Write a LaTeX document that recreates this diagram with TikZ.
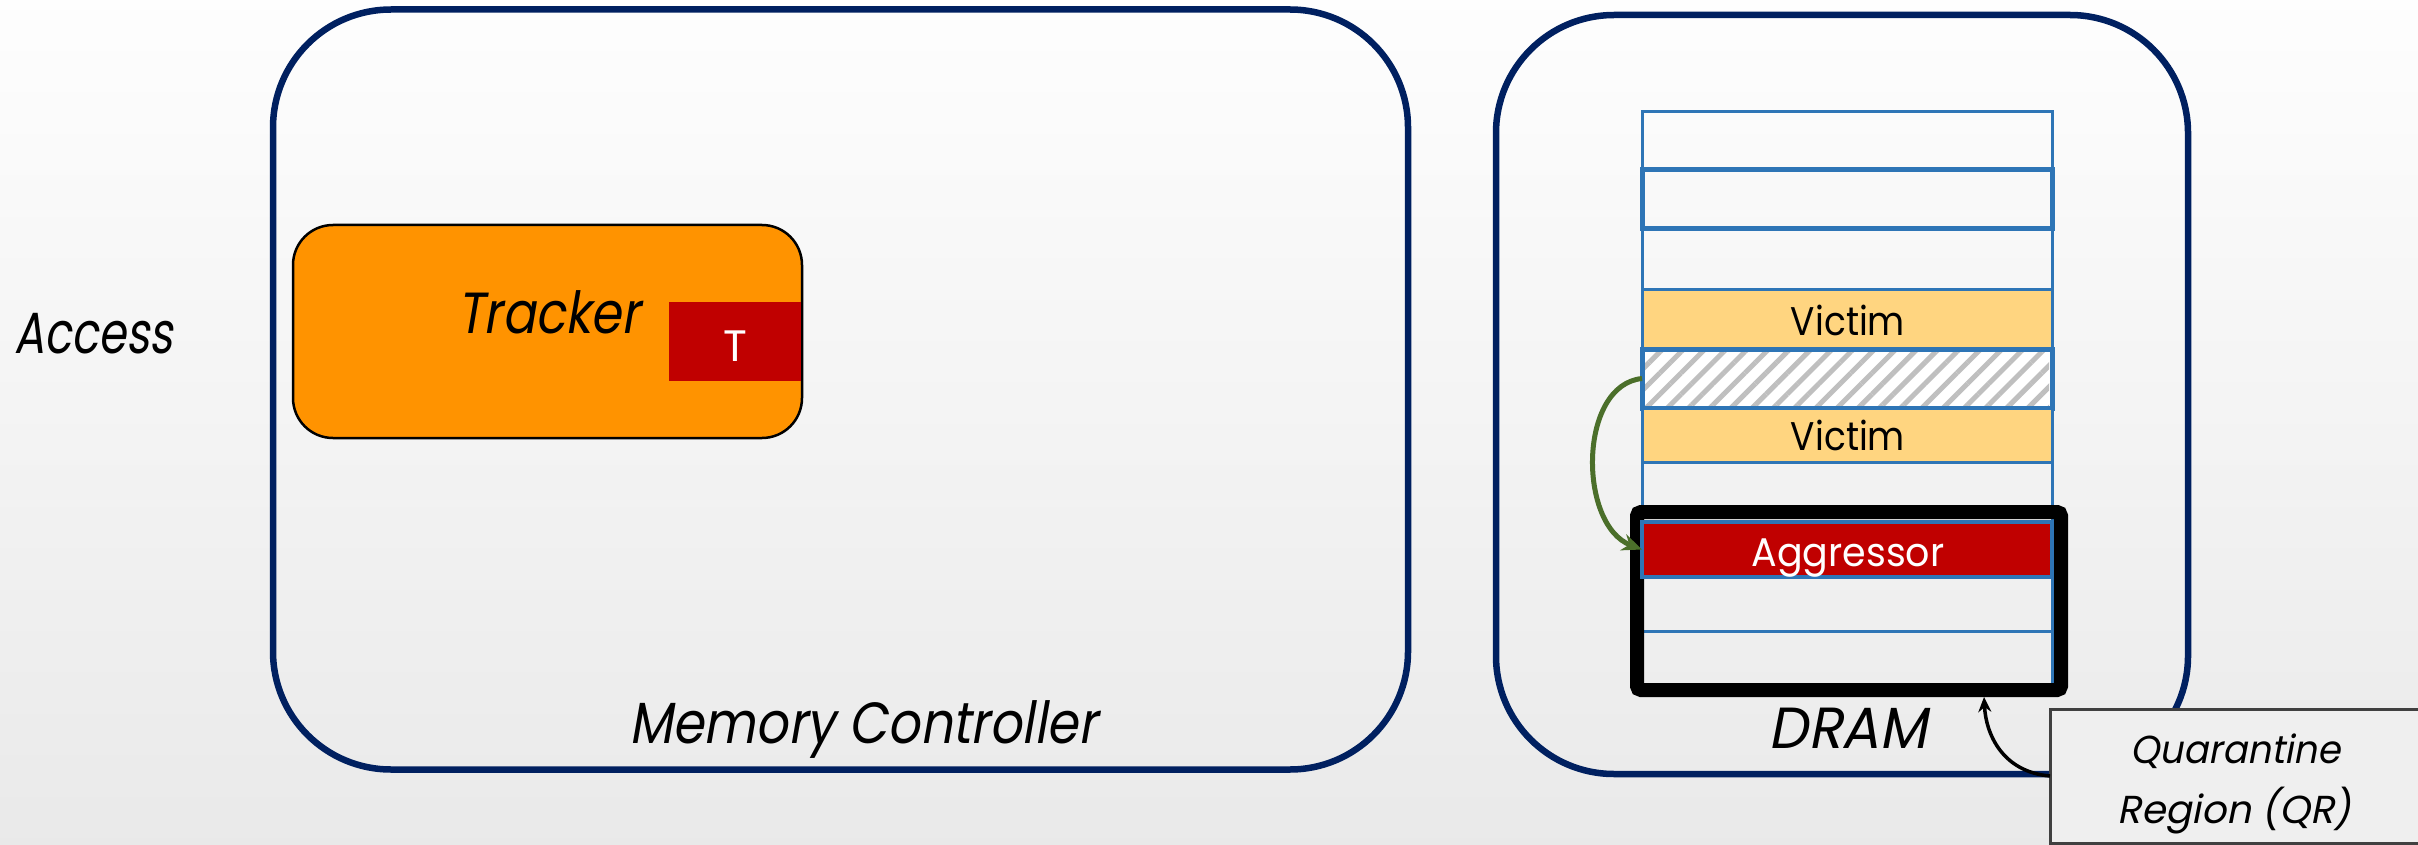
\documentclass[tikz,border=0pt]{standalone}
\usepackage{fontspec}
\usepackage{graphicx}
\newfontfamily\futr{Poppins}
\newfontfamily\futi[FakeSlant=0.2]{Poppins}
\usetikzlibrary{patterns.meta,arrows.meta}
\definecolor{navy}{HTML}{002060}
\definecolor{rowblue}{HTML}{2E75B6}
\definecolor{trackorange}{HTML}{FF9300}
\definecolor{darkred}{HTML}{C00000}
\definecolor{victimfill}{HTML}{FFD580}
\definecolor{arrowgreen}{HTML}{4B6F2A}
\definecolor{qrfill}{HTML}{EFEFEF}
\definecolor{hatchgray}{HTML}{BFBFBF}
\newcommand{\sx}[2]{\scalebox{#1}[1]{#2}}
\tikzset{
  bigbox/.style={draw=navy, line width=6.5pt, rounded corners=118pt, inner sep=0pt, outer sep=0pt},
  rowbox/.style={draw=rowblue, line width=3pt, minimum width=410pt, inner sep=0pt, outer sep=0pt},
  bigtext/.style={font=\futi\fontsize{58}{60}\selectfont, inner sep=0pt, anchor=base},
  rowtext/.style={font=\futr\fontsize{40}{44}\selectfont, inner sep=0pt, anchor=base},
  qrtext/.style={font=\futi\fontsize{39}{44}\selectfont, inner sep=0pt, anchor=base},
}
\begin{document}
\begin{tikzpicture}[x=1pt,y=-1pt]
\clip (0,0) rectangle (2418,845);
\shade[top color=gray!1, bottom color=gray!17] (0,0) rectangle (2418,845);

% big boxes
\node[bigbox, minimum width=1135pt, minimum height=760pt] (mc) at (840.5,389.5) {};
\node[bigbox, minimum width=692pt, minimum height=759pt] (dram) at (1842,394.5) {};

% tracker
\node[draw=black, line width=2.5pt, fill=trackorange, rounded corners=40pt,
      minimum width=509pt, minimum height=213pt, inner sep=0pt, outer sep=0pt] (tracker) at (547.5,331.5) {};
\node[fill=darkred, minimum width=132pt, minimum height=79pt, inner sep=0pt] (tbox) at (735,341.5) {};
\node[font=\futr\fontsize{44}{44}\selectfont, text=white, inner sep=0pt, anchor=base] (tlabel) at (735,361) {T};
\node[bigtext] (trackerlabel) at (548.5,333) {\sx{0.85}{Tracker}};

% texts
\node[bigtext] (access) at (93.5,353) {\sx{0.77}{Access}};
\node[bigtext] (mclabel) at (863,743) {\sx{0.87}{Memory Controller}};
\node[bigtext] (dramlabel) at (1848,748) {\sx{0.96}{DRAM}};

% DRAM rows
\node[rowbox, minimum height=58pt] (r1) at (1847,141) {};
\node[rowbox, line width=5pt, minimum height=59pt] (r2) at (1847,199.5) {};
\node[rowbox, minimum height=60pt] (r3) at (1847,259) {};
\node[rowbox, fill=victimfill, minimum height=60pt] (v1) at (1847,319) {};
\node[rowbox, minimum height=59pt, fill=white] (hatch) at (1847,378.5) {};
\fill[pattern={Lines[angle=45,distance=15pt,line width=5pt]}, pattern color=hatchgray]
  ([xshift=3pt,yshift=-3pt]hatch.north west) rectangle ([xshift=-3pt,yshift=3pt]hatch.south east);
\draw[rowblue, line width=5pt] (hatch.north west) rectangle (hatch.south east);
\node[rowbox, fill=victimfill, minimum height=54pt] (v2) at (1847,435) {};
\node[rowbox, minimum height=60pt] (r7) at (1847,492) {};
\node[rowbox, minimum height=54pt] (r9) at (1847,604) {};
\node[rowbox, minimum height=59pt] (r10) at (1847,660.5) {};

% quarantine region box
\node[draw=black, line width=14pt, rounded corners=4pt, minimum width=424pt, minimum height=178pt,
      inner sep=0pt, outer sep=0pt] (qrbox) at (1849,601) {};
\node[rowbox, line width=4pt, fill=darkred, minimum height=55pt] (aggr) at (1847,549.5) {};

\node[rowtext] (v1label) at (1848,335) {\sx{0.9}{Victim}};
\node[rowtext] (v2label) at (1848,450) {\sx{0.9}{Victim}};
\node[rowtext, text=white] (aggrlabel) at (1848,566) {\sx{0.95}{Aggressor}};

% green arrow
\draw[arrowgreen, line width=5pt, -{Stealth[length=20pt,width=17pt]}]
  (hatch.west) .. controls (1578,385) and (1578,525) .. (aggr.west);

% QR label box
\node[draw=black!75, fill=qrfill, line width=3pt, minimum width=370pt, minimum height=134pt,
      inner sep=0pt, outer sep=0pt] (qr) at (2235,776) {};
\node[qrtext] (qr1) at (2235.5,763) {\sx{0.95}{Quarantine}};
\node[qrtext] (qr2) at (2234.5,823) {Region (QR)};

\coordinate (qrtip) at (1984,697);
\draw[black, line width=3.5pt, -{Stealth[length=15pt,width=13pt]}]
  (qr.west) .. controls (2003,772) and (1986,735) .. (qrtip);
\end{tikzpicture}
\end{document}
